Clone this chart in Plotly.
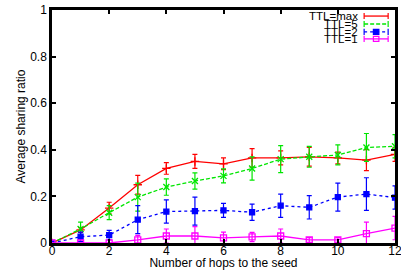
import plotly.graph_objects as go

hops = [0, 1, 2, 3, 4, 5, 6, 7, 8, 9, 10, 11, 12]

ttl_max = [0.0, 0.056, 0.15, 0.25, 0.32, 0.35, 0.34, 0.365, 0.365, 0.37, 0.365, 0.356, 0.38]
ttl_max_err = [0.0, 0.01, 0.025, 0.04, 0.025, 0.03, 0.025, 0.04, 0.03, 0.04, 0.025, 0.045, 0.03]

ttl_5 = [0.0, 0.06, 0.13, 0.197, 0.24, 0.266, 0.288, 0.32, 0.36, 0.37, 0.378, 0.41, 0.415]
ttl_5_err = [0.0, 0.03, 0.03, 0.06, 0.035, 0.035, 0.03, 0.05, 0.058, 0.045, 0.043, 0.06, 0.05]

ttl_2 = [0.0, 0.027, 0.034, 0.1, 0.135, 0.137, 0.14, 0.132, 0.16, 0.153, 0.197, 0.21, 0.195]
ttl_2_err = [0.0, 0.02, 0.02, 0.06, 0.05, 0.06, 0.03, 0.035, 0.05, 0.05, 0.06, 0.07, 0.05]

ttl_1 = [0.0, 0.0, 0.0, 0.013, 0.03, 0.03, 0.022, 0.026, 0.03, 0.013, 0.013, 0.04, 0.064]
ttl_1_err = [0.0, 0.0, 0.0, 0.02, 0.03, 0.04, 0.025, 0.02, 0.03, 0.01, 0.01, 0.05, 0.05]

names = ["TTL=max", "TTL=5", "TTL=2", "TTL=1"]
series = [ttl_max, ttl_5, ttl_2, ttl_1]
errors = [ttl_max_err, ttl_5_err, ttl_2_err, ttl_1_err]
colors = ["#ff0000", "#00e600", "#0000ff", "#ff00ff"]
dashes = ["solid", "4px,2px", "dot", "solid"]
symbols = ["cross-thin-open", "x-thin-open", "square", "square-open"]
msizes = [6, 6, 5, 6]

x_ticks = [0, 2, 4, 6, 8, 10, 12]
y_ticks = [0, 0.2, 0.4, 0.6, 0.8, 1]

FONT = "Liberation Sans, Arial, sans-serif"

fig = go.Figure()
for ys, es, c, d, s, m, n in zip(series, errors, colors, dashes, symbols, msizes, names):
    fig.add_trace(go.Scatter(
        x=hops, y=ys, name=n, mode="lines+markers",
        line=dict(color=c, width=1.3, dash=d),
        marker=dict(symbol=s, size=m, color=c, line=dict(color=c, width=1.3)),
        error_y=dict(type="data", array=es, visible=True, color=c, thickness=1.2, width=2.5),
        showlegend=False, cliponaxis=True,
    ))

# manual legend (text to the left of the key, gnuplot style)
x0, x1 = 0.910, 0.980
rows = [0.974, 0.94, 0.906, 0.876]
for n, c, d, s, r in zip(names, colors, dashes, symbols, rows):
    fig.add_annotation(x=0.898, y=r, xref="paper", yref="paper", text=n,
                       showarrow=False, xanchor="right", yanchor="middle",
                       font=dict(family=FONT, size=11.5, color="#000000"))
    fig.add_shape(type="line", xref="paper", yref="paper", x0=x0, x1=x1, y0=r, y1=r,
                  line=dict(color=c, width=1.3, dash=d))
    for xe in (x0, x1):
        fig.add_shape(type="line", xref="paper", yref="paper", x0=xe, x1=xe,
                      y0=r - 0.013, y1=r + 0.013, line=dict(color=c, width=1.2))
    xm = (x0 + x1) / 2
    if s.startswith("square"):
        fig.add_shape(type="rect", xref="paper", yref="paper",
                      x0=xm - 0.008, x1=xm + 0.008, y0=r - 0.011, y1=r + 0.011,
                      line=dict(color=c, width=1.2),
                      fillcolor=c if s == "square" else "rgba(0,0,0,0)")

fig.update_layout(
    width=401, height=270,
    margin=dict(l=52, r=6, t=10, b=27),
    paper_bgcolor="#ffffff", plot_bgcolor="#ffffff",
    font=dict(family=FONT, size=11, color="#000000"),
    showlegend=False,
)
fig.update_xaxes(
    range=[0, 12], tickvals=x_ticks, ticktext=[str(v) for v in x_ticks],
    showgrid=False, zeroline=False, automargin=False,
    showline=True, linecolor="#000000", linewidth=2.5, mirror="ticks",
    ticks="inside", ticklen=4, tickwidth=2, tickcolor="#000000",
    ticklabelstandoff=-5, ticklabeloverflow="allow",
    tickfont=dict(family=FONT, size=12, color="#000000"),
    title=dict(text="Number of hops to the seed", standoff=0,
               font=dict(family=FONT, size=12, color="#000000")),
)
fig.update_yaxes(
    range=[0, 1], tickvals=y_ticks, ticktext=["0", "0.2", "0.4", "0.6", "0.8", "1"],
    showgrid=False, zeroline=False, automargin=False,
    showline=True, linecolor="#000000", linewidth=2.5, mirror="ticks",
    ticks="inside", ticklen=4, tickwidth=2, tickcolor="#000000",
    tickfont=dict(family=FONT, size=12, color="#000000"),
    title=dict(text="Average sharing ratio", standoff=2,
               font=dict(family=FONT, size=12, color="#000000")),
)

fig.write_html("out.html", config={"displayModeBar": False},
               post_script="document.body.style.margin='0';document.body.style.padding='0';")
